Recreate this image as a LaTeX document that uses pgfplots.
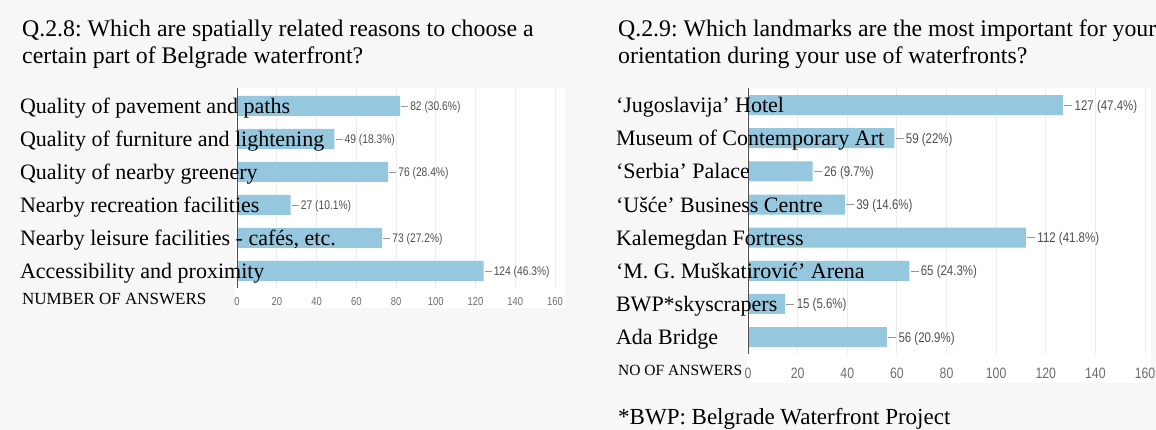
\documentclass[border=0pt]{standalone}
\usepackage{pgfplots}
\pgfplotsset{compat=1.18}
\usepackage{fontspec}
\setmainfont{Liberation Serif}
\newfontfamily\narrowsans[FakeStretch=0.82]{Liberation Sans}
\definecolor{barblue}{RGB}{149,199,222}
\definecolor{bggray}{RGB}{247,247,247}
\definecolor{ticktext}{RGB}{110,110,110}
\definecolor{valtext}{RGB}{80,80,80}
\definecolor{leader}{RGB}{150,150,150}
\definecolor{gridc}{RGB}{236,236,236}

\pgfplotsset{
  common/.style={
    anchor=south west, scale only axis, xbar, bar width=20pt,
    axis x line=bottom, axis y line=left, axis line style={-},
    x axis line style={draw=none},
    tick style={draw=none},
    xtick={0,20,...,160},
    /pgf/number format/assume math mode=true,
    grid style={draw=gridc, line width=1pt},
  },
  leftax/.style={common,
    at={(237pt,142pt)}, width=328pt, height=200pt,
    xmin=0, xmax=165, ymin=0.485, ymax=6.545, ytick={1,...,6},
  },
  rightax/.style={common,
    at={(748pt,76pt)}, width=402pt, height=265.8pt,
    xmin=0, xmax=162, ymin=0.49, ymax=8.51, ytick={1,...,8},
  },
}

\pgfplotstableread{
y n p
6 82 30.6
5 49 18.3
4 76 28.4
3 27 10.1
2 73 27.2
1 124 46.3
}\leftdata

\pgfplotstableread{
y n p
8 127 47.4
7 59 22
6 26 9.7
5 39 14.6
4 112 41.8
3 65 24.3
2 15 5.6
1 56 20.9
}\rightdata

\begin{document}
\frenchspacing
\begin{tikzpicture}
\useasboundingbox (0,0) rectangle (1156pt,430pt);
\clip (0,0) rectangle (1156pt,430pt);
\fill[bggray] (0,0) rectangle (1156pt,430pt);
\fill[white] (235pt,122pt) rectangle (565pt,342pt);
\fill[white] (747pt,47pt) rectangle (1151pt,342pt);

% titles
\node[anchor=base west, inner sep=0pt, font=\fontsize{23.8}{27}\selectfont] at (22pt,393pt) {Q.2.8: Which are spatially related reasons to choose a};
\node[anchor=base west, inner sep=0pt, font=\fontsize{23.8}{27}\selectfont] at (22pt,366pt) {certain part of Belgrade waterfront?};
\node[anchor=base west, inner sep=0pt, font=\fontsize{23.8}{27}\selectfont] at (618pt,393pt) {Q.2.9: Which landmarks are the most important for your};
\node[anchor=base west, inner sep=0pt, font=\fontsize{23.8}{27}\selectfont] at (618pt,366pt) {orientation during your use of waterfronts?};

% left chart: grid, bars, values, x tick labels
\begin{axis}[leftax,
  xmajorgrids, yticklabels={},
  y axis line style={draw=none},
  xticklabel style={anchor=center, inner sep=0pt, yshift=-11pt, font=\narrowsans\fontsize{11.5}{12}\selectfont, text=ticktext},
  point meta=explicit symbolic,
  visualization depends on={\thisrow{n} \as \nval},
  nodes near coords={\textcolor{leader}{\rule[0.33em]{7pt}{0.6pt}}\,\pgfmathprintnumber[fixed,precision=0]{\nval} (\pgfplotspointmeta\%)},
  every node near coord/.append style={anchor=base west, inner sep=0pt, xshift=1pt, yshift=-4.5pt, font=\narrowsans\fontsize{12.5}{13}\selectfont, text=valtext},
]
\addplot[fill=barblue, draw=none] table[x=n, y=y, meta=p] {\leftdata};
\end{axis}
% left chart: category labels and axis line on top
\begin{axis}[leftax,
  xticklabels={},
  y axis line style={draw=black!70, line width=0.8pt},
  yticklabels={Accessibility and proximity,{Nearby leisure facilities - cafés, etc.},Nearby recreation facilities,Quality of nearby greenery,Quality of furniture and lightening,Quality of pavement and paths},
  yticklabel style={anchor=base west, inner sep=0pt, xshift=-215pt, yshift=-7.5pt, font=\fontsize{22}{24}\selectfont, text=black},
]
\end{axis}
\node[anchor=base west, inner sep=0pt, font=\fontsize{17}{19}\selectfont] at (22pt,125.5pt) {NUMBER OF ANSWERS};

% right chart
\begin{axis}[rightax,
  xmajorgrids, yticklabels={},
  y axis line style={draw=none},
  xticklabel style={anchor=center, inner sep=0pt, yshift=-17pt, font=\narrowsans\fontsize{15}{16}\selectfont, text=ticktext},
  point meta=explicit symbolic,
  visualization depends on={\thisrow{n} \as \nval},
  nodes near coords={\textcolor{leader}{\rule[0.33em]{8pt}{0.6pt}}\,\pgfmathprintnumber[fixed,precision=0]{\nval} (\pgfplotspointmeta\%)},
  every node near coord/.append style={anchor=base west, inner sep=0pt, xshift=1pt, yshift=-5pt, font=\narrowsans\fontsize{14}{15}\selectfont, text=valtext},
]
\addplot[fill=barblue, draw=none] table[x=n, y=y, meta=p] {\rightdata};
\end{axis}
\begin{axis}[rightax,
  xticklabels={},
  y axis line style={draw=black!70, line width=0.8pt},
  yticklabels={Ada Bridge,BWP*skyscrapers,‘M. G. Muškatirović’ Arena,Kalemegdan Fortress,‘Ušće’ Business Centre,‘Serbia’ Palace,Museum of Contemporary Art,‘Jugoslavija’ Hotel},
  yticklabel style={anchor=base west, inner sep=0pt, xshift=-130pt, yshift=-7.5pt, font=\fontsize{22}{24}\selectfont, text=black},
]
\end{axis}
\node[anchor=base west, inner sep=0pt, font=\fontsize{15.5}{17}\selectfont] at (618pt,54pt) {NO OF ANSWERS};

\node[anchor=base west, inner sep=0pt, font=\fontsize{23}{25}\selectfont] at (618pt,5pt) {*BWP: Belgrade Waterfront Project};
\end{tikzpicture}
\end{document}
